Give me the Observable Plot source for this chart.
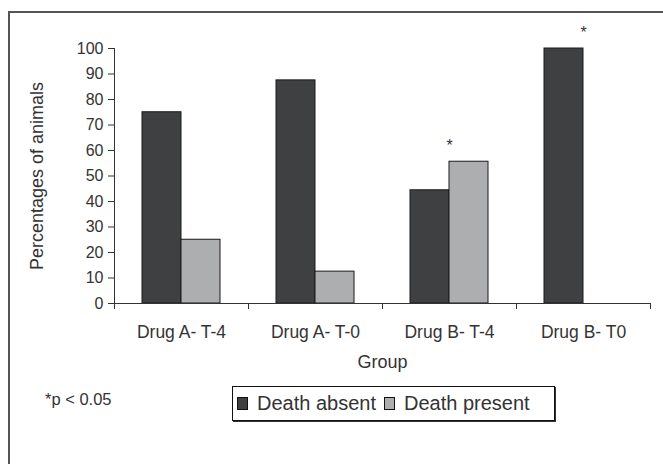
<!DOCTYPE html>
<html>
<head>
<meta charset="utf-8">
<script src="https://cdn.jsdelivr.net/npm/d3@7"></script>
<script src="https://cdn.jsdelivr.net/npm/@observablehq/plot@0.6"></script>
<style>
  html, body { margin: 0; padding: 0; background: #fff; overflow: hidden; }
  #page { position: relative; width: 663px; height: 464px; overflow: hidden; font-family: "Liberation Sans", Arial, sans-serif; color: #333; }
  #vline { position: absolute; left: 8px; top: 11px; width: 2px; height: 453px; background: #555; }
  #hline { position: absolute; left: 8px; top: 11px; width: 655px; height: 2px; background: #555; }
  #chart { position: absolute; left: 0; top: 0; }
  #note { position: absolute; left: 45px; top: 390px; font-size: 16.5px; color: #333; }
  #legend { position: absolute; left: 232px; top: 386px; width: 321px; height: 33px; border: 1.5px solid #111; box-shadow: 1px 1px 0 #333; background: #fff; display: flex; align-items: center; font-size: 20px; color: #333; white-space: nowrap; }
  .item { display: flex; align-items: center; }
  .sw { width: 9px; height: 11px; border: 1px solid #111; margin: 0 9px 0 4px; }
</style>
</head>
<body>
<div id="page">
  <div id="vline"></div>
  <div id="hline"></div>
  <div id="chart"></div>
  <div id="note"></div>
  <div id="legend"></div>
</div>
<script>
const groups = ["Drug A- T-4", "Drug A- T-0", "Drug B- T-4", "Drug B- T0"];
const series = ["Death absent", "Death present"];
const deathAbsent = [75, 87.5, 44.4, 100];
const deathPresent = [25, 12.5, 55.6, 0];
const significantGroups = ["Drug B- T-4", "Drug B- T0"];
const yTicks = [0, 10, 20, 30, 40, 50, 60, 70, 80, 90, 100];
const seriesColors = ["#3f4042", "#adaeb0"];
const yLabel = "Percentages of animals";
const xLabel = "Group";
const noteText = "*p < 0.05";

const rows = [];
groups.forEach((g, i) => {
  rows.push({group: g, series: series[0], value: deathAbsent[i]});
  rows.push({group: g, series: series[1], value: deathPresent[i]});
});
const sigRows = significantGroups.map(g => {
  const i = groups.indexOf(g);
  return {group: g, value: Math.max(deathAbsent[i], deathPresent[i]), mark: "*"};
});

const chart = Plot.plot({
  width: 663,
  height: 380,
  marginLeft: 113,
  marginRight: 13,
  marginTop: 48,
  marginBottom: 77,
  style: {fontFamily: "'Liberation Sans', Arial, sans-serif", color: "#333", background: "transparent"},
  fx: {domain: groups, padding: 0},
  x: {domain: series, paddingInner: 0, paddingOuter: 0.7, axis: null},
  y: {domain: [0, 100]},
  color: {domain: series, range: seriesColors},
  marks: [
    Plot.axisY({ticks: yTicks, tickSize: 6, tickPadding: 5, fontSize: 16, label: null, stroke: "#333"}),
    Plot.axisY({ticks: [], label: yLabel, labelAnchor: "center", labelArrow: false, labelOffset: 84, fontSize: 18}),
    Plot.axisFx({anchor: "bottom", tickSize: 0, tickPadding: 22, fontSize: 17.5, label: null}),
    Plot.axisFx({anchor: "bottom", ticks: [], label: xLabel, labelAnchor: "center", labelArrow: false, labelOffset: 64, fontSize: 18}),
    Plot.barY(rows, {fx: "group", x: "series", y: "value", fill: "series", stroke: "#1a1a1a", strokeWidth: 1}),
    Plot.frame({anchor: "left", insetBottom: -5, stroke: "#333", facetAnchor: "left"}),
    Plot.frame({anchor: "left", insetTop: 255, insetBottom: -5, stroke: "#333", facetAnchor: null}),
    Plot.frame({anchor: "right", insetTop: 255, insetBottom: -5, stroke: "#333", facetAnchor: null}),
    Plot.ruleY([0], {stroke: "#333"}),
    Plot.text(sigRows, {fx: "group", y: "value", text: "mark", dy: -16, fontSize: 16, fill: "#333"})
  ]
});
document.getElementById("chart").appendChild(chart);

document.getElementById("note").textContent = noteText;
const legend = document.getElementById("legend");
series.forEach((s, i) => {
  const item = document.createElement("span");
  item.className = "item";
  const sw = document.createElement("span");
  sw.className = "sw";
  sw.style.background = seriesColors[i];
  const label = document.createElement("span");
  label.textContent = s;
  if (i === 0) label.style.marginRight = "4px";
  item.appendChild(sw);
  item.appendChild(label);
  legend.appendChild(item);
});
</script>
</body>
</html>
